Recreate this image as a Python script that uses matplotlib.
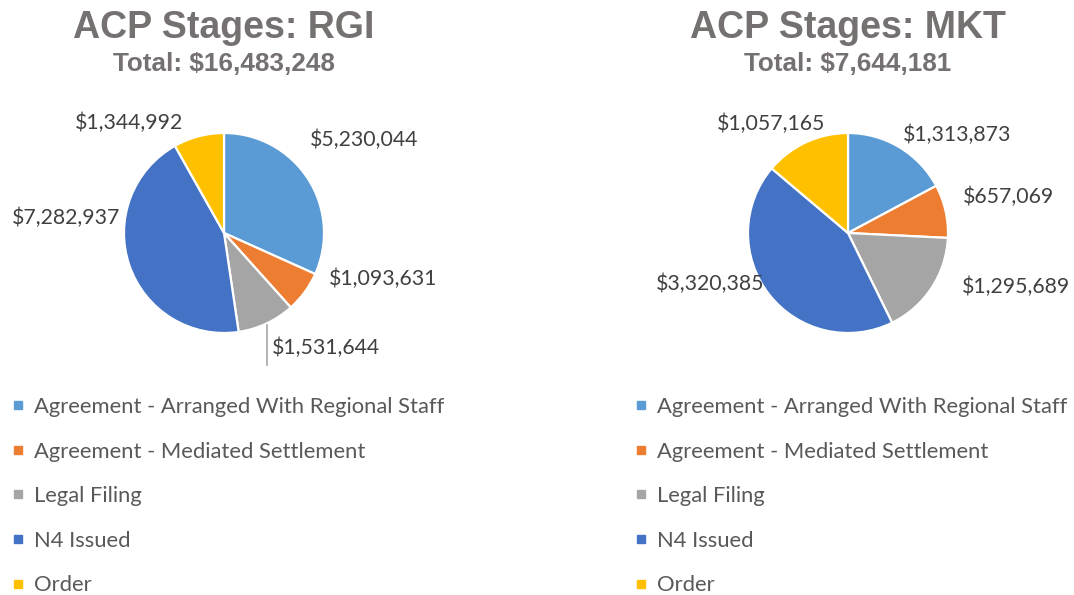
import matplotlib.pyplot as plt
from matplotlib.lines import Line2D

# data
stages = ["Agreement - Arranged With Regional Staff",
          "Agreement - Mediated Settlement",
          "Legal Filing",
          "N4 Issued",
          "Order"]
rgi_values = [5230044, 1093631, 1531644, 7282937, 1344992]
mkt_values = [1313873, 657069, 1295689, 3320385, 1057165]
colors = ["#5B9BD5", "#ED7D31", "#A5A5A5", "#4472C4", "#FFC000"]

# label positions (text centres, in pie-radius units)
rgi_label_pos = [(1.40, 0.93), (1.59, -0.46), (1.02, -1.15), (-1.58, 0.15), (-0.95, 1.10)]
mkt_label_pos = [(1.09, 0.98), (1.61, 0.36), (1.68, -0.54), (-1.38, -0.51), (-0.77, 1.09)]

W, H = 1074, 595
fig = plt.figure(figsize=(W / 100, H / 100), dpi=100)

title_color = "#767171"
label_color = "#404040"
legend_color = "#595959"
lab_font = "Lato"


def draw_pie(left_px, center_px, legend_px, name, values, label_pos):
    ax = fig.add_axes([left_px / W, 1 - 370 / H, 537 / W, 275 / H])
    ax.pie(values, colors=colors, startangle=90, counterclock=False,
           wedgeprops=dict(edgecolor="white", linewidth=1.6))
    cx = (center_px - left_px) / 100
    ax.set_xlim(-cx, 5.37 - cx)
    ax.set_ylim(-1.37, 1.38)
    ax.axis("off")
    for v, (x, y) in zip(values, label_pos):
        ax.text(x, y, f"${v:,}", ha="center", va="center", fontsize=15.3,
                color=label_color, family=lab_font)
    total = sum(values)
    fig.text(center_px / W, 1 - 28 / H, f"ACP Stages: {name}", ha="center", va="center",
             fontsize=27, fontweight="bold", color=title_color, family="Liberation Sans")
    fig.text(center_px / W, 1 - 64 / H, f"Total: ${total:,}", ha="center", va="center",
             fontsize=18.8, fontweight="bold", color=title_color, family="Liberation Sans")
    handles = [Line2D([], [], marker="s", linestyle="none", markersize=6,
                      markerfacecolor=c, markeredgecolor=c) for c in colors]
    fig.legend(handles, stages, loc="upper left",
               bbox_to_anchor=(legend_px / W, 1 - 397 / H),
               frameon=False, handlelength=0.5, handletextpad=0.45,
               labelspacing=1.12, borderpad=0, borderaxespad=0,
               prop=dict(family=lab_font, size=15.8), labelcolor=legend_color)
    return ax


ax1 = draw_pie(0, 224, 13, "RGI", rgi_values, rgi_label_pos)
# leader line for the legal filing label
ax1.plot([0.43, 0.43], [-0.92, -1.32], color="#A6A6A6", linewidth=1.2)

ax2 = draw_pie(537, 848, 636, "MKT", mkt_values, mkt_label_pos)

fig.savefig("out.png", dpi=100)
